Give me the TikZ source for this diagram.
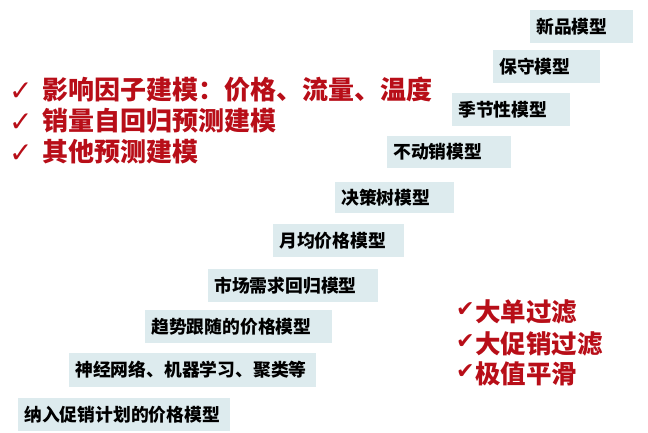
\documentclass[tikz,border=0pt]{standalone}
\usepackage{fontspec}
\setmainfont{Noto Sans CJK SC}
\newfontfamily\sym{DejaVu Sans}
\definecolor{boxfill}{RGB}{221,235,238}
\definecolor{redtxt}{RGB}{184,14,24}
\tikzset{
  mbox/.style={fill=boxfill, draw=none},
  mtext/.style={anchor=west, inner sep=0pt, font=\fontsize{17.8}{17.8}\selectfont\bfseries, text=black},
  redl/.style={anchor=west, inner sep=0pt, font=\fontsize{26}{26}\selectfont\bfseries, text=redtxt},
  redr/.style={anchor=west, inner sep=0pt, font=\fontsize{25.5}{25.5}\selectfont\bfseries, text=redtxt},
  chkl/.style={anchor=west, inner sep=0pt, font=\sym\fontsize{28}{28}\selectfont, text=redtxt},
  chkr/.style={anchor=west, inner sep=0pt, font=\sym\fontsize{22}{22}\selectfont, text=redtxt}
}
\begin{document}
\begin{tikzpicture}[x=1pt,y=-1pt]
\useasboundingbox[fill=white] (0,0) rectangle (648,432);
% model boxes
\fill[mbox] (530,10) rectangle (633,43);
\node[mtext] (b1) at (536,26.5) {新品模型};
\fill[mbox] (493,50) rectangle (600,83);
\node[mtext] (b2) at (499,66.5) {保守模型};
\fill[mbox] (452,93) rectangle (570,126);
\node[mtext] (b3) at (458,109.5) {季节性模型};
\fill[mbox] (387,136) rectangle (511,168);
\node[mtext] (b4) at (393,152) {不动销模型};
\fill[mbox] (335,182) rectangle (454,213);
\node[mtext] (b5) at (341,197.5) {决策树模型};
\fill[mbox] (273,224) rectangle (404,257);
\node[mtext] (b6) at (279,240.5) {月均价格模型};
\fill[mbox] (208,269) rectangle (378,302);
\node[mtext] (b7) at (214,285.5) {市场需求回归模型};
\fill[mbox] (145,310) rectangle (332,343);
\node[mtext] (b8) at (151,326.5) {趋势跟随的价格模型};
\fill[mbox] (69,353) rectangle (316,387);
\node[mtext] (b9) at (75,370) {神经网络、机器学习、聚类等};
\fill[mbox] (18,398) rectangle (230,431);
\node[mtext] (b10) at (24,414.5) {纳入促销计划的价格模型};
% left red list
\node[chkl] (c1) at (9,92) {✓};
\node[redl] (t1) at (42,90) {影响因子建模：价格、流量、温度};
\node[chkl] (c2) at (9,123) {✓};
\node[redl] (t2) at (42,121) {销量自回归预测建模};
\node[chkl] (c3) at (9,154) {✓};
\node[redl] (t3) at (42,152) {其他预测建模};
% right red list
\node[chkr] (r1) at (456,310) {✔};
\node[redr] (s1) at (475,312) {大单过滤};
\node[chkr] (r2) at (456,342) {✔};
\node[redr] (s2) at (475,344) {大促销过滤};
\node[chkr] (r3) at (456,372) {✔};
\node[redr] (s3) at (475,374) {极值平滑};
\end{tikzpicture}
\end{document}
